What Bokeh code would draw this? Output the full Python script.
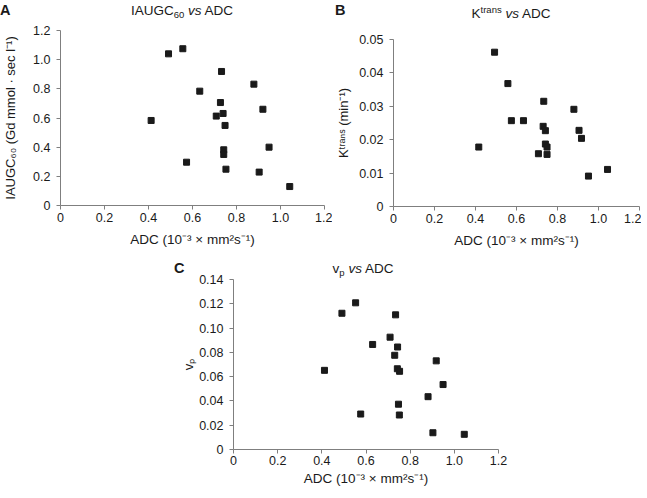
from bokeh.plotting import figure
from bokeh.models import Range1d, FixedTicker, PrintfTickFormatter, Spacer, Div
from bokeh.layouts import column, row
from bokeh.embed import file_html
from bokeh.resources import INLINE

# ---- data ----
adc_a = [0.491, 0.556, 0.732, 0.879, 0.633, 0.727, 0.920, 0.412, 0.708,
         0.739, 0.748, 0.948, 0.742, 0.742, 0.573, 0.752, 0.903, 1.042]
iaugc60 = [1.040, 1.075, 0.919, 0.832, 0.784, 0.706, 0.660, 0.583, 0.613,
           0.631, 0.549, 0.400, 0.382, 0.350, 0.297, 0.249, 0.229, 0.130]

adc_b = [0.493, 0.558, 0.733, 0.880, 0.575, 0.634, 0.730, 0.741, 0.905,
         0.917, 0.416, 0.741, 0.749, 0.707, 0.749, 1.044, 0.951]
ktrans = [0.0462, 0.0368, 0.0315, 0.0291, 0.0257, 0.0257, 0.0240, 0.0227, 0.0228,
          0.0204, 0.0178, 0.0187, 0.0178, 0.0158, 0.0156, 0.0111, 0.0091]

adc_c = [0.553, 0.491, 0.734, 0.709, 0.630, 0.743, 0.730, 0.918, 0.412,
         0.742, 0.752, 0.949, 0.881, 0.747, 0.576, 0.751, 0.903, 1.045]
vp = [0.1208, 0.1122, 0.1109, 0.0925, 0.0865, 0.0844, 0.0776, 0.0730, 0.0652,
      0.0665, 0.0644, 0.0535, 0.0435, 0.0373, 0.0292, 0.0284, 0.0138, 0.0125]

x_ticks = [0, 0.2, 0.4, 0.6, 0.8, 1.0, 1.2]
a_ticks = [0, 0.2, 0.4, 0.6, 0.8, 1.0, 1.2]
b_ticks = [0, 0.01, 0.02, 0.03, 0.04, 0.05]
c_ticks = [0, 0.02, 0.04, 0.06, 0.08, 0.10, 0.12, 0.14]

x_label = "ADC (10\u207b\u00b3 \u00d7 mm\u00b2s\u207b\u00b9)"
a_ylabel = "IAUGC\u2086\u2080 (Gd mmol \u00b7 sec l\u207b\u00b9)"
b_ylabel = "K\u1d57\u02b3\u1d43\u207f\u02e2 (min\u207b\u00b9)"
c_ylabel = "v\u209a"

SUB = '<span style="font-size:9.5px;position:relative;top:3px">{}</span>'
SUP = '<span style="font-size:9.5px;position:relative;top:-5px">{}</span>'
a_title = "IAUGC" + SUB.format("60") + " <i>vs</i> ADC"
b_title = "K" + SUP.format("trans") + " <i>vs</i> ADC"
c_title = "v" + SUB.format("p") + " <i>vs</i> ADC"

FONT = "Liberation Sans"
INK = "#1a1a1a"
AXIS = "#7f7f7f"


def make_panel(fw, fh, bl, br, bt, bb, ymax, yticks, yfmt, ylabel,
               xs, ys, y_standoff, tick_standoff, x_standoff):
    p = figure(frame_width=fw, frame_height=fh, title=None,
               x_range=Range1d(0, 1.2), y_range=Range1d(0, ymax),
               output_backend="svg", toolbar_location=None,
               min_border=0,
               min_border_left=bl, min_border_right=br,
               min_border_top=bt, min_border_bottom=bb)
    p.outline_line_color = None
    p.grid.visible = False
    p.background_fill_color = None
    p.border_fill_color = None
    for ax in (p.xaxis[0], p.yaxis[0]):
        ax.axis_line_color = AXIS
        ax.major_tick_line_color = AXIS
        ax.minor_tick_line_color = None
        ax.major_tick_out = 4
        ax.major_tick_in = 0
        ax.major_label_text_font = FONT
        ax.major_label_text_font_size = "12.5px"
        ax.major_label_text_color = INK
        ax.axis_label_text_font = FONT
        ax.axis_label_text_font_style = "normal"
        ax.axis_label_text_color = INK
    p.xaxis[0].ticker = FixedTicker(ticks=x_ticks)
    p.xaxis[0].formatter = PrintfTickFormatter(format="%.1f")
    p.xaxis[0].major_label_overrides = {0: "0"}
    p.xaxis[0].major_label_standoff = tick_standoff
    p.xaxis[0].axis_label = x_label
    p.xaxis[0].axis_label_standoff = x_standoff
    p.xaxis[0].axis_label_text_font_size = "13.5px"
    p.yaxis[0].ticker = FixedTicker(ticks=yticks)
    p.yaxis[0].formatter = PrintfTickFormatter(format=yfmt)
    p.yaxis[0].major_label_overrides = {0: "0"}
    p.yaxis[0].major_label_standoff = 6
    p.yaxis[0].axis_label = ylabel
    p.yaxis[0].axis_label_standoff = y_standoff
    p.yaxis[0].axis_label_text_font_size = "13px"
    p.scatter(xs, ys, marker="square", size=6, color=INK, line_color=INK)
    return p


def header(w, h, letter, lx, lbase, title_html, cx, tbase):
    html = (
        f'<div style="position:relative;width:{w}px;height:{h}px;'
        f"font-family:'Liberation Sans',Arial,sans-serif;color:{INK};\">"
        f'<span style="position:absolute;left:{lx}px;top:{lbase - 12.3:.1f}px;'
        f'font-size:14.5px;line-height:14.5px;font-weight:bold;">{letter}</span>'
        f'<span style="position:absolute;left:{cx}px;top:{tbase - 11.4:.1f}px;'
        f'transform:translateX(-50%);font-size:13.5px;line-height:13.5px;'
        f'white-space:nowrap;">{title_html}</span></div>'
    )
    return Div(text=html, width=w, height=h, margin=0,
               styles={"overflow": "visible"})


# Panel A: frame 58..322 x 30..205
hA = header(322, 14, "A", 0, 7, a_title, 182, 7)
pA = make_panel(264, 175, 50, 8, 8, 45, 1.2, a_ticks, "%.1f", a_ylabel,
                adc_a, iaugc60, 12, 3, 7)

# Panel B: frame 391..637 x 39..206
hB = header(309, 23, "B", 3, 7, b_title, 179, 10)
pB = make_panel(246, 167, 61, 2, 8, 44, 0.05, b_ticks, "%.2f", b_ylabel,
                adc_b, ktrans, 5, 3, 7)

# Panel C: frame 241..506 x 279..449
hC = header(338, 21, "C", 4, 23, c_title, 193, 23)
pC = make_panel(265, 170, 63, 10, 8, 41, 0.14, c_ticks, "%.2f", c_ylabel,
                adc_c, vp, 0, 2, 3)

layout = column(Spacer(width=10, height=8),
                row(column(hA, pA), column(hB, pB)),
                row(Spacer(width=170, height=1), column(hC, pC)))

open("out.html", "w").write(file_html(layout, INLINE))
